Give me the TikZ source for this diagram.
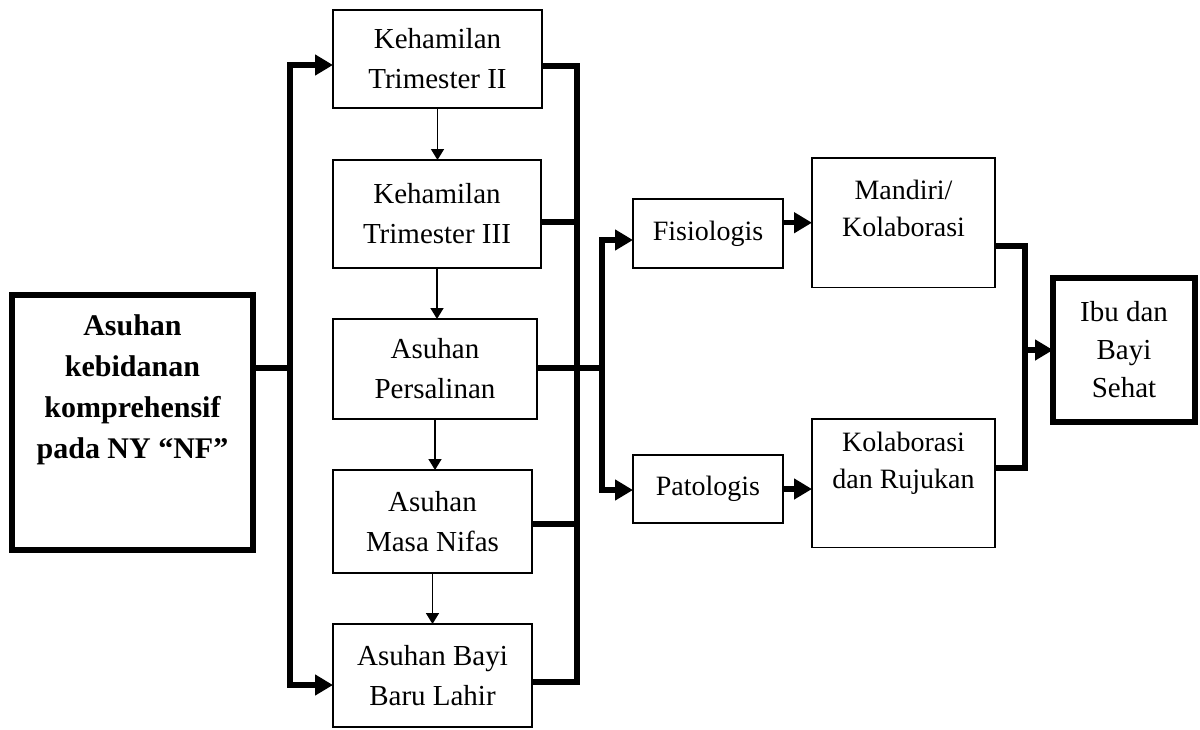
\documentclass[tikz,border=0pt]{standalone}
\usepackage{fontspec}
\setmainfont{Liberation Serif}
\usetikzlibrary{arrows.meta}

\begin{document}
\begin{tikzpicture}[
    x=1pt, y=-1pt,
    stage/.style={draw, line width=1.6pt, outer sep=0pt, align=center, font=\fontsize{29}{40}\selectfont},
    result/.style={draw, line width=1.6pt, outer sep=0pt, align=center, font=\fontsize{28}{37}\selectfont},
    mainbox/.style={draw, line width=6pt, outer sep=0pt, align=center},
    link/.style={line width=5.5pt},
    arr/.style={line width=5.5pt, -{Triangle[length=18pt, width=20pt]}},
    darr/.style={line width=5.5pt, {Triangle[length=18pt, width=20pt]}-{Triangle[length=18pt, width=20pt]}},
    thinarr/.style={line width=1.6pt, -{Triangle[length=11pt, width=13pt]}}
]
\useasboundingbox (0,0) rectangle (1200,729);

% Start - bold box on the left, text sits at the top
\node[mainbox, anchor=north, minimum width=241pt, inner ysep=20pt, text depth=71pt,
      font=\bfseries\fontsize{30}{41}\selectfont] (asuhan) at (132.5,295)
      {Asuhan\\kebidanan\\komprehensif\\pada NY “NF”};

% Stages of care (middle column)
\node[stage, minimum width=209pt, minimum height=98pt] (tm2) at (437.5,59) {Kehamilan\\Trimester II};
\node[stage, minimum width=208pt, minimum height=108pt] (tm3) at (437,214) {Kehamilan\\Trimester III};
\node[stage, minimum width=204pt, minimum height=100pt] (salin) at (435,369) {Asuhan\\Persalinan};
\node[stage, minimum width=199pt, minimum height=103pt] (nifas) at (432.5,521.5) {Asuhan\\Masa Nifas};
\node[stage, minimum width=199pt, minimum height=103pt] (bayi) at (432.5,675.5) {Asuhan Bayi\\Baru Lahir};

\foreach \a/\b in {tm2/tm3, tm3/salin, salin/nifas, nifas/bayi} {
    \draw[thinarr] (\a.south) -- (\a.south |- \b.north);
}

% Left branch into first and last stage
\coordinate (lsplit) at (290,368);
\coordinate (ltop) at (290,65);
\coordinate (lbot) at (290,685);
\draw[link] (asuhan.east |- lsplit) -- (lsplit);
\draw[darr] (tm2.west |- ltop) -- (ltop) -- (lbot) -- (bayi.west |- lbot);

% Middle bracket collecting all stages
\coordinate (mtop) at (577,66);
\coordinate (mbot) at (577,682);
\draw[link] (tm2.east |- mtop) -- (mtop) -- (mbot) -- (bayi.east |- mbot);
\foreach \n/\y in {tm3/222, salin/368, nifas/524} {
    \coordinate (m-\n) at (577,\y);
    \draw[link] (\n.east |- m-\n) -- (m-\n);
}

% Outcome: physiological / pathological
\node[result, minimum width=150pt, minimum height=69pt] (fis) at (708,233.5) {Fisiologis};
\node[result, minimum width=150pt, minimum height=68pt] (pat) at (708,489) {Patologis};

\coordinate (bsplit) at (602,368);
\coordinate (btop) at (602,240);
\coordinate (bbot) at (602,490);
\draw[link] (m-salin) -- (bsplit);
\draw[darr] (fis.west |- btop) -- (btop) -- (bbot) -- (pat.west |- bbot);

% Handling
\node[result, anchor=north, minimum width=183pt, inner ysep=22pt, text depth=29pt] (mandiri) at (903.5,158) {Mandiri/\\Kolaborasi};
\node[result, anchor=north, minimum width=183pt, inner ysep=13pt, text depth=46pt] (rujuk) at (903.5,419) {Kolaborasi\\dan Rujukan};

\draw[arr] (fis.east |- mandiri.west) -- (mandiri.west);
\draw[arr] (pat.east) -- (pat.east -| rujuk.west);

% Final result
\node[mainbox, minimum width=142pt, minimum height=144pt, font=\fontsize{29}{38}\selectfont] (ibu) at (1124,350) {Ibu dan\\Bayi\\Sehat};

\coordinate (rtop) at (1025,246);
\coordinate (rbot) at (1025,468);
\draw[link] (mandiri.east |- rtop) -- (rtop) -- (rbot) -- (rujuk.east |- rbot);
\draw[arr] (ibu.west -| rtop) -- (ibu.west);

\end{tikzpicture}
\end{document}
